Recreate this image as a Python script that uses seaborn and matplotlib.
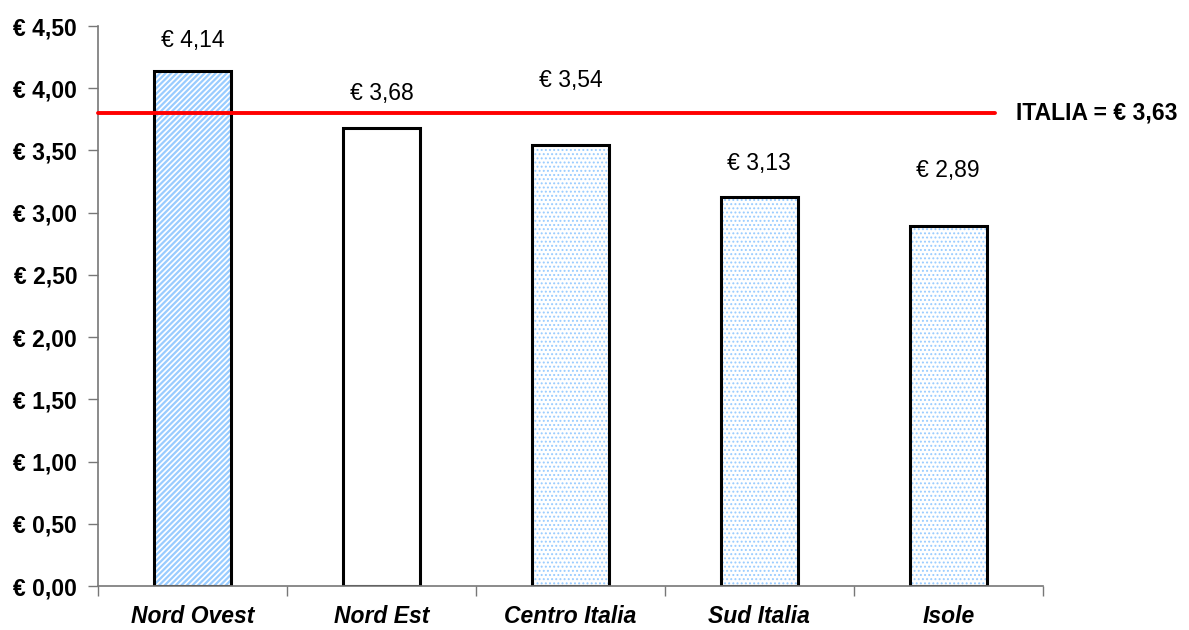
"""Spesa media per area geografica, confronto con la media nazionale."""

import matplotlib
matplotlib.use("Agg")
import matplotlib.pyplot as plt
import seaborn as sns

REGIONS = ["Nord Ovest", "Nord Est", "Centro Italia", "Sud Italia", "Isole"]
VALUES = [4.14, 3.68, 3.54, 3.13, 2.89]
VALUE_LABELS = ["€ 4,14", "€ 3,68", "€ 3,54", "€ 3,13", "€ 2,89"]
HATCHES = ["//////", "", "....", "....", "...."]
Y_TICKS = [0, 0.5, 1, 1.5, 2, 2.5, 3, 3.5, 4, 4.5]
Y_TICK_LABELS = ["€ 0,00", "€ 0,50", "€ 1,00", "€ 1,50", "€ 2,00",
                 "€ 2,50", "€ 3,00", "€ 3,50", "€ 4,00", "€ 4,50"]
ITALIA_LINE = 3.80
ITALIA_LABEL = "ITALIA = € 3,63"

# label offsets above bar top, in points (copied from the picture layout)
LABEL_OFFSETS = [22, 25, 47, 24, 40]

HATCH_BLUE = "#99ccff"
FS = 16.5

sns.set_theme(style="white")
plt.rcParams.update({
    "font.family": ["Liberation Sans", "DejaVu Sans"],
    "hatch.linewidth": 1.6,
    "text.color": "black",
    "xtick.labelcolor": "black",
    "ytick.labelcolor": "black",
})

fig = plt.figure(figsize=(11.89, 6.30), dpi=100)
ax = fig.add_axes([0.0824, 0.0698, 0.7946, 0.8889])

# hatch layer
sns.barplot(x=REGIONS, y=VALUES, color="white", width=0.41, ax=ax,
            linewidth=0, saturation=1)
for patch, h in zip(ax.patches, HATCHES):
    patch.set_hatch(h)
    patch.set_edgecolor(HATCH_BLUE)
    patch.set_linewidth(0)
    if h.startswith(".") and hasattr(patch, "set_hatch_linewidth"):
        patch.set_hatch_linewidth(0.9)

# outline layer
sns.barplot(x=REGIONS, y=VALUES, fill=False, width=0.41, ax=ax,
            edgecolor="black", linewidth=2.2)

for i, (v, lab, off) in enumerate(zip(VALUES, VALUE_LABELS, LABEL_OFFSETS)):
    ax.annotate(lab, (i, v), xytext=(0, off), textcoords="offset points",
                ha="center", va="center", fontsize=FS, color="black")

ax.plot([-0.5, 4.246], [ITALIA_LINE, ITALIA_LINE], color="#ff0000",
        linewidth=2.8, clip_on=False, zorder=5)
ax.text(4.36, ITALIA_LINE, ITALIA_LABEL, ha="left", va="center",
        fontsize=FS, fontweight="bold", color="black", clip_on=False)

ax.set_xlim(-0.5, 4.5)
ax.set_ylim(0, 4.5)
ax.set_yticks(Y_TICKS)
ax.set_yticklabels(Y_TICK_LABELS, fontsize=FS, fontweight="bold")

ax.set_xticks([-0.5, 0.5, 1.5, 2.5, 3.5, 4.5])
ax.set_xticklabels([])
ax.set_xticks(range(len(REGIONS)), minor=True)
ax.set_xticklabels(REGIONS, minor=True, fontsize=FS,
                   fontweight="bold", fontstyle="italic")
ax.tick_params(axis="x", which="major", length=7, width=1, color="#777777",
               direction="out", bottom=True)
ax.tick_params(axis="x", which="minor", length=0, pad=14)
ax.tick_params(axis="y", length=7, width=1, color="#777777", direction="out",
               left=True, pad=8)

ax.set_xlabel("")
ax.set_ylabel("")
for side in ["top", "right"]:
    ax.spines[side].set_visible(False)
for side in ["left", "bottom"]:
    ax.spines[side].set_color("#777777")
    ax.spines[side].set_linewidth(1.2)

fig.savefig("out.png", dpi=100)
